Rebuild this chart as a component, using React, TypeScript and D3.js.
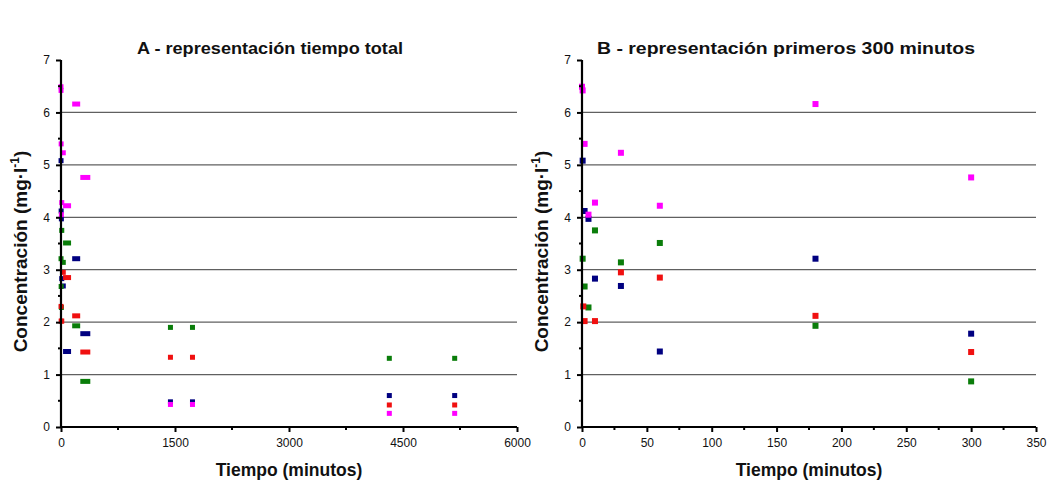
import React, { useEffect, useRef } from "react";
import * as d3 from "d3";

// [time (min), concentration (mg·l-1)]
const magentaSeries: [number, number][] = [
  [0, 6.49], [0.5, 6.42], [2, 5.40], [5, 4.05], [10, 4.28], [30, 5.23], [60, 4.22],
  [180, 6.16], [300, 4.76], [1440, 0.43], [1730, 0.43], [4320, 0.26], [5180, 0.26],
];
const navySeries: [number, number][] = [
  [0.5, 5.08], [2, 4.12], [5, 3.97], [10, 2.83], [30, 2.69], [60, 1.44],
  [180, 3.21], [300, 1.78], [1440, 0.48], [1730, 0.48], [4320, 0.60], [5180, 0.60],
];
const redSeries: [number, number][] = [
  [1, 2.30], [2, 2.02], [10, 2.02], [30, 2.95], [60, 2.85],
  [180, 2.12], [300, 1.43], [1440, 1.33], [1730, 1.33], [4320, 0.42], [5180, 0.42],
];
const greenSeries: [number, number][] = [
  [0.5, 3.21], [2, 2.68], [5, 2.28], [10, 3.75], [30, 3.14], [60, 3.51],
  [180, 1.93], [300, 0.87], [1440, 1.90], [1730, 1.90], [4320, 1.31], [5180, 1.31],
];

const seriesList = [
  { name: "navy", color: "#000080", data: navySeries },
  { name: "magenta", color: "#FF00FF", data: magentaSeries },
  { name: "green", color: "#0A7D0A", data: greenSeries },
  { name: "red", color: "#F01010", data: redSeries },
];

const titles = ["A - representación tiempo total", "B - representación primeros 300 minutos"];
const xTicksA = [0, 1500, 3000, 4500, 6000];
const xTicksB = [0, 50, 100, 150, 200, 250, 300, 350];
const yTicks = [0, 1, 2, 3, 4, 5, 6, 7];
const gridValues = [1, 2, 3, 4, 5, 6];

export default function App() {
  const ref = useRef<SVGSVGElement>(null);

  useEffect(() => {
    const svg = d3.select(ref.current);
    svg.selectAll("*").remove();

    const panels = [
      { left: 61, right: 517, xMax: 6000, ticks: xTicksA, minorStep: 750, title: titles[0], titleX: 270, titleW: 266, wide: true },
      { left: 582, right: 1036, xMax: 350, ticks: xTicksB, minorStep: 25, title: titles[1], titleX: 786, titleW: 378, wide: false },
    ];
    const top = 60, bottom = 427;
    const y = d3.scaleLinear().domain([0, 7]).range([bottom, top]);
    const font = "Liberation Sans, Arial, sans-serif";

    panels.forEach((p) => {
      const g = svg.append("g");
      const x = d3.scaleLinear().domain([0, p.xMax]).range([p.left, p.right]);

      // gridlines
      g.selectAll(".grid").data(gridValues).enter().append("line")
        .attr("x1", p.left).attr("x2", p.right)
        .attr("y1", (d) => y(d)).attr("y2", (d) => y(d))
        .attr("stroke", "#606060").attr("stroke-width", 1.2);

      const markW = (t: number) => {
        if (!p.wide) return 6;
        if (t >= 60 && t < 300) return 8;
        if (t === 300) return 10;
        return 5;
      };

      // markers
      seriesList.forEach((s) => {
        g.selectAll(".m" + s.name)
          .data(s.data.filter((d) => d[0] <= p.xMax))
          .enter().append("rect")
          .attr("width", (d) => markW(d[0]))
          .attr("height", p.wide ? 5 : 6)
          .attr("x", (d) => x(d[0]) - markW(d[0]) / 2 + (p.wide && d[0] >= 60 && d[0] <= 300 ? 1.5 : 0))
          .attr("y", (d) => y(d[1]) - (p.wide ? 2.5 : 3))
          .attr("fill", s.color);
      });

      // y axis
      const yAxis = d3.axisLeft(y).tickValues(yTicks).tickSize(5).tickPadding(6).tickFormat(d3.format("d"));
      const ya = g.append("g").attr("transform", `translate(${p.left},0)`).call(yAxis);
      ya.select(".domain").attr("stroke-width", 2.2).attr("d", `M0,${bottom + 1}V${top}`);
      ya.selectAll(".tick line").attr("stroke-width", 2);
      ya.selectAll("text").attr("font-family", font).attr("font-size", 12).attr("fill", "#111");
      g.selectAll(".ym").data(d3.range(0.5, 7, 1)).enter().append("line")
        .attr("x1", p.left - 3).attr("x2", p.left)
        .attr("y1", (d) => y(d)).attr("y2", (d) => y(d))
        .attr("stroke", "#000").attr("stroke-width", 2);

      // x axis
      const xAxis = d3.axisBottom(x).tickValues(p.ticks).tickSize(5).tickPadding(6).tickFormat(d3.format("d"));
      const xa = g.append("g").attr("transform", `translate(0,${bottom})`).call(xAxis);
      xa.select(".domain").attr("stroke-width", 2.2).attr("d", `M${p.left - 1},0H${p.right}`);
      xa.selectAll(".tick line").attr("stroke-width", 2);
      xa.selectAll("text").attr("font-family", font).attr("font-size", 12).attr("fill", "#111");
      g.selectAll(".xm").data(d3.range(p.minorStep, p.xMax, p.minorStep * 2)).enter().append("line")
        .attr("x1", (d) => x(d)).attr("x2", (d) => x(d))
        .attr("y1", bottom).attr("y2", bottom + 3)
        .attr("stroke", "#000").attr("stroke-width", 2);

      // title
      g.append("text").attr("x", p.titleX).attr("y", 54).attr("text-anchor", "middle")
        .attr("font-family", font).attr("font-weight", "bold")
        .attr("font-size", 17).attr("textLength", p.titleW).attr("lengthAdjust", "spacingAndGlyphs")
        .attr("fill", "#111").text(p.title);

      // x label
      g.append("text").attr("x", (p.left + p.right) / 2).attr("y", 476).attr("text-anchor", "middle")
        .attr("font-family", font).attr("font-weight", "bold")
        .attr("font-size", 17.5).attr("fill", "#111").text("Tiempo (minutos)");

      // y label
      const yl = g.append("text")
        .attr("transform", `translate(${p.left - 34},${(top + bottom) / 2 + 8}) rotate(-90)`)
        .attr("text-anchor", "middle")
        .attr("font-family", font).attr("font-weight", "bold")
        .attr("font-size", 19).attr("fill", "#111");
      yl.append("tspan").text("Concentración (mg·l");
      yl.append("tspan").attr("dy", -8).attr("font-size", 12).text("-1");
      yl.append("tspan").attr("dy", 8).text(")");
    });
  }, []);

  return (
    <svg ref={ref} width={1050} height={486} style={{ display: "block", position: "absolute", left: 0, top: 0, background: "#fff" }} />
  );
}
